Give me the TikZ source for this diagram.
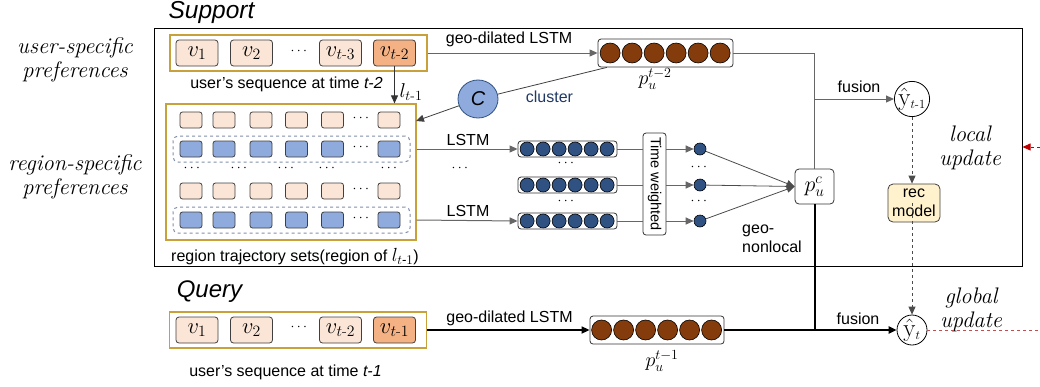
\RequirePackage{fix-cm}
\documentclass[tikz,border=0pt]{standalone}
\usepackage{amsmath}
\usepackage{fontspec}
\newfontfamily\arial{Liberation Sans}
\usetikzlibrary{arrows.meta,shapes.geometric,calc}
\definecolor{peach}{HTML}{FBE5D6}
\definecolor{orng}{HTML}{F4B183}
\definecolor{blu}{HTML}{8FAADC}
\definecolor{gold}{HTML}{C9A13B}
\definecolor{brn}{HTML}{843C0C}
\definecolor{dblu}{HTML}{2F5283}
\definecolor{recf}{HTML}{FFF2CC}
\definecolor{clus}{HTML}{1F3864}
\definecolor{dashc}{HTML}{7F8FA9}
\definecolor{redd}{HTML}{C00000}
\definecolor{pinkr}{HTML}{C0504D}
\tikzset{
 sans/.style={font=\arial\fontsize{16}{19}\selectfont},
 itemb/.style={draw=black!75, rounded corners=3pt, fill=peach, minimum width=42pt, minimum height=26pt, inner sep=0pt, line width=0.8pt, font=\fontsize{22.5}{24}\selectfont},
 seqbox/.style={draw=gold, line width=1.2pt, minimum width=257pt, minimum height=36pt, inner sep=0pt},
 cell/.style={draw=black!75, rounded corners=2.5pt, minimum width=22pt, minimum height=16pt, inner sep=0pt, line width=0.8pt},
 pcell/.style={cell, fill=peach},
 bcell/.style={cell, fill=blu},
 dgroup/.style={draw=dashc, dashed, rounded corners=5pt, line width=1pt, minimum width=237pt, minimum height=26pt, inner sep=0pt},
 vecbox/.style={draw=black!80, rounded corners=3pt, fill=white, line width=0.8pt, inner sep=0pt},
 bigdot/.style={circle, draw=black, fill=brn, minimum size=20pt, inner sep=0pt, line width=0.6pt},
 smdot/.style={circle, draw=black, fill=dblu, minimum size=14pt, inner sep=0pt, line width=0.6pt},
 tinydot/.style={circle, draw=black, fill=dblu, minimum size=12pt, inner sep=0pt, line width=0.6pt},
 yhat/.style={circle, draw=black, minimum size=30pt, inner sep=0pt, line width=0.8pt, font=\fontsize{25}{26}\selectfont},
 conn/.style={draw=black!60, line width=1pt},
 arr/.style={-{Triangle[length=8pt,width=7pt]}},
 serifit/.style={font=\itshape\fontsize{22.5}{24}\selectfont, align=center},
 dotsn/.style={font=\fontsize{14}{16}\selectfont, inner sep=0pt},
 mathl/.style={font=\fontsize{20}{22}\selectfont, inner sep=0pt},
}
\begin{document}
\begin{tikzpicture}[x=1pt,y=-1pt]
\useasboundingbox (0,0) rectangle (1040,386);
% frames
\node[draw=black, line width=1pt, minimum width=868pt, minimum height=238pt, inner sep=0pt] (support) at (588,147) {};
\node[font=\arial\itshape\fontsize{24.5}{28}\selectfont] (suptitle) at (211.5,12) {Support};
\node[font=\arial\itshape\fontsize{24}{28}\selectfont] (qtitle) at (209.5,292) {Query};
\node[serifit] (usp) at (75,60) {user-specific\\preferences};
\node[serifit] (rsp) at (75,177) {region-specific\\preferences};
\node[serifit] (lup) at (970,148) {local\\update};
\node[serifit] (gup) at (971,310) {global\\update};

% top sequence
\node[seqbox] (seqtop) at (298.5,53) {};
\node[itemb] (a1) at (197,53) {$v_1$};
\node[itemb] (a2) at (251.5,53) {$v_2$};
\node[dotsn] (adots) at (300,51) {$\cdots$};
\node[itemb] (a3) at (340.5,53) {$v_{t\text{-}3}$};
\node[itemb, fill=orng] (a4) at (394.5,53) {$v_{t\text{-}2}$};
\node[sans] (seqtoplab) at (286.5,84) {user’s sequence at time \textit{t-2}};

% region box
\node[draw=gold, line width=1.2pt, minimum width=250pt, minimum height=136pt, inner sep=0pt] (rbox) at (291,172) {};
\node[dgroup] (g1) at (291.5,149) {};
\node[dgroup] (g2) at (291.5,220) {};
\foreach \x [count=\i] in {191,224,261,296.5,332.5} {
  \node[pcell] (ra\i) at (\x,120) {};
  \node[bcell] (rb\i) at (\x,149) {};
  \node[pcell] (rc\i) at (\x,191) {};
  \node[bcell] (rd\i) at (\x,220) {};
}
\node[pcell] (ra6) at (389,120) {};
\node[bcell] (rb6) at (389,149) {};
\node[pcell] (rc6) at (389,191) {};
\node[bcell] (rd6) at (389,220) {};
\foreach \y/\n in {118/a,147/b,189/c,218/d} {
  \node[dotsn] (rdots\n) at (362,\y) {$\cdots$};
}
\foreach \x [count=\i] in {193,240,287,328,390} {
  \node[dotsn] (rmid\i) at (\x,168) {$\cdots$};
}
\node[sans] (rlab) at (295,257) {region trajectory sets(region of {\fontsize{19}{20}\selectfont$l_{t\text{-}1}$})};

% arrow from v_{t-2} down
\draw[black!80, line width=0.8pt, arr] (a4.south) -- (a4.south |- rbox.north);
\node[mathl] (lt1) at (411,92) {$l_{t\text{-}1}$};

% p_u^{t-2} vector
\node[vecbox, minimum width=135pt, minimum height=28pt] (pt2) at (665.5,53) {};
\foreach \i in {0,...,5} { \node[bigdot] (pt2d\i) at ($(pt2.west)+(12.5+22*\i,0)$) {}; }
\node[mathl] (pt2lab) at (655,79) {$p_u^{t-2}$};
\draw[conn, arr] (seqtop.east) -- (pt2.west);
\node[sans] (gdl1) at (509,39) {geo-dilated LSTM};

% cluster
\node[ellipse, draw=dblu, fill=blu, line width=0.8pt, minimum width=40pt, minimum height=38pt, inner sep=0pt, font=\arial\itshape\fontsize{20}{24}\selectfont] (C) at (478,99) {C};
\coordinate (rin) at (416,121);
\draw[black!75, line width=0.8pt] (pt2) -- (C);
\draw[black!75, line width=0.8pt, arr] (C) -- (rin);
\node[sans, text=clus] (clab) at (549.5,97) {cluster};

% LSTM vectors
\foreach \y/\n in {149/1,185/2,221/3} {
  \node[vecbox, minimum width=99pt, minimum height=16pt] (lv\n) at (567.5,\y) {};
  \foreach \i in {0,...,5} { \node[smdot] (lv\n d\i) at ($(lv\n.west)+(9.5+16*\i,0)$) {}; }
}
\node[dotsn] (lvd1) at (567,163) {$\cdots$};
\node[dotsn] (lvd2) at (567,201) {$\cdots$};
\draw[conn, arr] (g1.east -| rbox.east) -- (lv1.west);
\draw[conn, arr] (g2.east -| rbox.east) -- (lv3.west);
\node[sans] (lstm1) at (468,140) {LSTM};
\node[sans] (lstm2) at (468,211) {LSTM};
\node[dotsn] (lstmd) at (461,168) {$\cdots$};

% time weighted
\node[draw=black!80, rounded corners=3pt, line width=0.8pt, minimum width=23pt, minimum height=102pt, inner sep=0pt] (tw) at (654.5,184) {};
\node[rotate=-90, font=\arial\fontsize{14.5}{17}\selectfont] (twt) at (tw) {Time weighted};
\foreach \n in {1,2,3} {
  \node[tinydot] (s\n) at (700,0 |- lv\n) {};
  \draw[conn] (lv\n.east) -- (lv\n.east -| tw.west);
  \draw[conn, arr] (lv\n.east -| tw.east) -- (s\n.west);
}
\node[dotsn] (sd1) at (700,167) {$\cdots$};
\node[dotsn] (sd2) at (700,201) {$\cdots$};

% p_u^c
\node[draw=black!80, rounded corners=4pt, line width=0.8pt, minimum width=39pt, minimum height=35pt, inner sep=0pt, font=\fontsize{22}{24}\selectfont] (pc) at (814.5,186.5) {$p_u^c$};
\foreach \n in {1,2,3} { \draw[black!70, line width=0.8pt, arr] (s\n) -- (pc.west); }
\node[sans, align=left] (gnl) at (772,239) {geo-\\nonlocal};

% fusion support
\node[yhat] (yt1) at (912,99) {$\hat{\mathrm{y}}_{\scriptscriptstyle t\text{-}1}$};
\draw[conn] (pt2.east) -- (pt2.east -| pc.north) -- (pc.north);
\draw[conn, arr] (pc.north |- yt1.west) -- (yt1.west);
\node[sans] (fus1) at (859,87) {fusion};

% rec model
\node[draw=black!75, fill=recf, rounded corners=5pt, line width=0.8pt, minimum width=52pt, minimum height=38pt, inner sep=0pt, align=center, font=\arial\fontsize{16}{19}\selectfont] (rec) at (914,203) {rec\\model};
\draw[black!70, dashed, line width=0.8pt, arr] (yt1.south) -- (yt1.south |- rec.north);

% query
\node[seqbox] (seqq) at (298,330) {};
\node[itemb] (b1) at (197,330) {$v_1$};
\node[itemb] (b2) at (251.5,330) {$v_2$};
\node[dotsn] (bdots) at (300,327) {$\cdots$};
\node[itemb] (b3) at (340.5,330) {$v_{t\text{-}2}$};
\node[itemb, fill=orng] (b4) at (394.5,330) {$v_{t\text{-}1}$};
\node[sans] (seqqlab) at (285.5,372) {user’s sequence at time \textit{t-1}};

\node[vecbox, minimum width=134pt, minimum height=28pt] (pt1) at (657,330) {};
\foreach \i in {0,...,5} { \node[bigdot] (pt1d\i) at ($(pt1.west)+(12,0)+(22*\i,0)$) {}; }
\node[mathl] (pt1lab) at (662,361) {$p_u^{t-1}$};
\draw[black, line width=1.6pt, arr] (seqq.east) -- (pt1.west);
\node[sans] (gdl2) at (509.5,318) {geo-dilated LSTM};

\node[yhat] (yt) at (912,330) {$\hat{\mathrm{y}}_{\scriptscriptstyle t}$};
\draw[black, line width=2pt] (pc.south) -- (pc.south |- pt1.east);
\draw[black, line width=2pt, arr] (pt1.east) -- (yt.west);
\node[sans] (fus2) at (858,319) {fusion};
\draw[black!70, dashed, line width=0.8pt, arr] (yt1.south |- rec.center) -- (yt.north);

% update arrows
\coordinate (redin) at (1040,147);
\draw[redd, dashed, line width=0.8pt, arr] (redin) -- (support.east);
\coordinate (gend) at (1040,330);
\draw[pinkr, dashed, line width=0.9pt] (yt.east) -- (gend);
\end{tikzpicture}
\end{document}
